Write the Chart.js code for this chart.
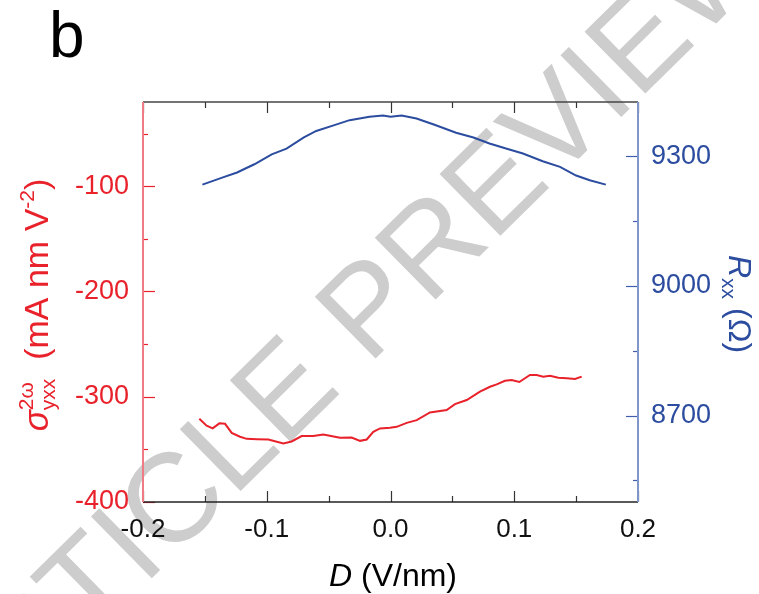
<!DOCTYPE html>
<html>
<head>
<meta charset="utf-8">
<script src="https://cdn.jsdelivr.net/npm/chart.js@4.4.1/dist/chart.umd.min.js"></script>
<style>
  html, body { margin: 0; padding: 0; background: #fff; }
  #wrap { width: 759px; height: 594px; position: relative; }
</style>
</head>
<body>
<div id="wrap"><canvas id="chart"></canvas></div>
<script>
// D (V/nm) sweep for the second-harmonic conductivity trace
const dSigma = [-0.1545, -0.1486, -0.1437, -0.1383, -0.1337, -0.1283, -0.1216, -0.1162, -0.1080, -0.0987,
                -0.0866, -0.0799, -0.0718, -0.0624, -0.0543, -0.0470, -0.0408, -0.0314, -0.0246, -0.0192,
                -0.0139, -0.0085, -0.0004, 0.0050, 0.0131, 0.0212, 0.0319, 0.0454, 0.0521, 0.0616,
                0.0723, 0.0804, 0.0858, 0.0925, 0.0979, 0.1041, 0.1127, 0.1181, 0.1235, 0.1289,
                0.1356, 0.1424, 0.1491, 0.1545];
const sigma = [-321, -327.5, -330, -325.3, -325.7, -334.3, -338, -340, -340.3, -340.6,
               -344.4, -342.5, -337.4, -337.4, -335.8, -337.5, -339, -338.7, -341.9, -340.6,
               -333.3, -330.1, -329.5, -328.6, -324.8, -322.2, -314.9, -312.7, -307, -303.1,
               -295.2, -290.5, -288.2, -284.8, -284.1, -286, -279.3, -279.3, -280.9, -280,
               -281.9, -282.5, -283.1, -280.9];

// D (V/nm) sweep for the longitudinal resistance
const dRxx = [-0.152, -0.136, -0.124, -0.110, -0.096, -0.084, -0.070, -0.060, -0.046, -0.033,
              -0.017, -0.006, 0.000, 0.009, 0.021, 0.035, 0.053, 0.067, 0.080, 0.094,
              0.107, 0.123, 0.137, 0.150, 0.161, 0.174];
const rxx = [9234, 9250, 9262, 9281, 9304, 9317, 9343, 9358, 9371, 9383,
             9391, 9394, 9391, 9394, 9387, 9373, 9354, 9343, 9329, 9317,
             9306, 9288, 9275, 9255, 9244, 9234];

const xTicks = [-0.2, -0.1, 0, 0.1, 0.2];
const xMinor = [-0.15, -0.05, 0.05, 0.15];
const sigmaTicks = [-400, -300, -200, -100];
const sigmaMinor = [-350, -250, -150, -50];
const rxxTicks = [8700, 9000, 9300];
const rxxMinor = [8550, 8850, 9150];

const RED = '#e8212a';
const BLUE = '#2b4c9f';
const FONT = "'Liberation Sans', Arial, sans-serif";

Chart.defaults.font.family = FONT;

// draws a run of [text, size, italic, shift, advances] pieces along the baseline
function drawRich(ctx, parts, align) {
    const widths = parts.map(p => {
        ctx.font = `${p[2] ? 'italic ' : ''}${p[1]}px ${FONT}`;
        return p[4] === false ? 0 : ctx.measureText(p[0]).width;
    });
    const total = widths.reduce((a, b) => a + b, 0);
    let u = align == 'center' ? -total / 2 : 0;
    parts.forEach((p, i) => {
        ctx.font = `${p[2] ? 'italic ' : ''}${p[1]}px ${FONT}`;
        ctx.fillText(p[0], u, p[3]);
        u += widths[i];
    });
}

const frame = {
    id: 'frame',
    beforeDraw(chart) {
        const ctx = chart.ctx;
        ctx.save();
        ctx.translate(374, 360);
        ctx.rotate(-44.5 * Math.PI / 180);
        ctx.font = `126px ${FONT}`;
        ctx.fillStyle = '#cdcdcd';
        ctx.textAlign = 'center';
        ctx.fillText('ARTICLE PREVIEW', 0, 0);
        ctx.restore();
    },
    afterDatasetsDraw(chart) {
        const {ctx, chartArea: a, scales} = chart;
        const {x, y, y2} = scales;
        const seg = (x1, y1, x2, y2_) => { ctx.beginPath(); ctx.moveTo(x1, y1); ctx.lineTo(x2, y2_); ctx.stroke(); };
        ctx.save();

        // ticks on top and bottom, pointing inward
        ctx.strokeStyle = '#333';
        ctx.lineWidth = 1.2;
        xTicks.concat(xMinor).forEach(v => {
            const len = xTicks.includes(v) ? 11 : 6;
            const px = Math.round(x.getPixelForValue(v)) + 0.5;
            seg(px, a.bottom, px, a.bottom - len);
            seg(px, a.top, px, a.top + len);
        });
        // left axis ticks
        ctx.strokeStyle = RED;
        sigmaTicks.concat(sigmaMinor).forEach(v => {
            const len = sigmaTicks.includes(v) ? 12 : 5;
            const py = Math.round(y.getPixelForValue(v)) + 0.5;
            seg(a.left, py, a.left + len, py);
        });
        // right axis ticks
        ctx.strokeStyle = '#3f5fae';
        rxxTicks.concat(rxxMinor).forEach(v => {
            const len = rxxTicks.includes(v) ? 12 : 5;
            const py = Math.round(y2.getPixelForValue(v)) + 0.5;
            seg(a.right, py, a.right - len, py);
        });

        // frame
        ctx.lineWidth = 1.5;
        ctx.strokeStyle = '#444';
        seg(a.left, a.top, a.right, a.top);
        ctx.strokeStyle = '#222';
        seg(a.left, a.bottom, a.right, a.bottom);
        ctx.lineWidth = 2;
        ctx.strokeStyle = '#ef7c82';
        seg(a.left, a.top, a.left, a.bottom);
        ctx.strokeStyle = '#7f96cc';
        seg(a.right, a.top, a.right, a.bottom);
        ctx.restore();
    },
    afterDraw(chart) {
        const ctx = chart.ctx;
        ctx.save();
        ctx.textBaseline = 'alphabetic';
        ctx.textAlign = 'left';

        // panel letter
        ctx.fillStyle = '#000';
        ctx.font = `64px ${FONT}`;
        ctx.fillText('b', 49, 57);

        // x title
        ctx.save();
        ctx.translate(393, 586);
        drawRich(ctx, [['D', 32, true, 0], [' (V/nm)', 32, false, 0]], 'center');
        ctx.restore();

        // left title: sigma_yxx^2w (mA nm V^-2)
        ctx.save();
        ctx.fillStyle = RED;
        ctx.translate(48, 305);
        ctx.rotate(-Math.PI / 2);
        drawRich(ctx, [
            ['\u03c3', 35, true, 0],
            ['2\u03c9', 21, false, -15, false],
            ['yxx', 21, false, 7],
            ['  (mA nm V', 34, false, 0],
            ['-2', 21, false, -14],
            [')', 34, false, 0]
        ], 'center');
        ctx.restore();

        // right title: R_xx (Ohm)
        ctx.save();
        ctx.fillStyle = BLUE;
        ctx.translate(729, 255);
        ctx.rotate(Math.PI / 2);
        drawRich(ctx, [
            ['R', 32, true, 0],
            ['xx', 21, false, 7],
            [' (\u03a9)', 32, false, 0]
        ], 'left');
        ctx.restore();

        ctx.restore();
    }
};

new Chart('chart', {
    type: 'line',
    data: {
        datasets: [{
            label: 'sigma',
            data: dSigma.map((d, i) => ({x: d, y: sigma[i]})),
            borderColor: RED,
            borderWidth: 2,
            pointRadius: 0,
            tension: 0,
            yAxisID: 'y'
        }, {
            label: 'Rxx',
            data: dRxx.map((d, i) => ({x: d, y: rxx[i]})),
            borderColor: BLUE,
            borderWidth: 2,
            pointRadius: 0,
            tension: 0,
            yAxisID: 'y2'
        }]
    },
    options: {
        responsive: true,
        maintainAspectRatio: false,
        animation: false,
        layout: { padding: { top: 102, left: 0, right: 0, bottom: 0 } },
        plugins: {
            legend: { display: false },
            tooltip: { enabled: false }
        },
        scales: {
            x: {
                type: 'linear',
                min: -0.2,
                max: 0.2,
                afterBuildTicks: scale => { scale.ticks = xTicks.map(v => ({value: v})); },
                afterFit: scale => { scale.height = 92; },
                grid: { display: false, drawTicks: false },
                border: { display: false },
                ticks: {
                    padding: 12,
                    color: '#111',
                    font: { size: 26 },
                    maxRotation: 0,
                    callback: v => v.toFixed(1)
                }
            },
            y: {
                position: 'left',
                min: -400,
                max: -20,
                afterBuildTicks: scale => { scale.ticks = sigmaTicks.map(v => ({value: v})); },
                afterFit: scale => { scale.width = 143; },
                grid: { display: false, drawTicks: false },
                border: { display: false },
                ticks: { padding: 14, color: RED, font: { size: 27 }, callback: v => String(v) }
            },
            y2: {
                position: 'right',
                min: 8500,
                max: 9425,
                afterBuildTicks: scale => { scale.ticks = rxxTicks.map(v => ({value: v})); },
                afterFit: scale => { scale.width = 121; },
                grid: { display: false, drawTicks: false },
                border: { display: false },
                ticks: { padding: 13, color: BLUE, font: { size: 27 }, callback: v => String(v) }
            }
        }
    },
    plugins: [frame]
});
</script>
</body>
</html>
